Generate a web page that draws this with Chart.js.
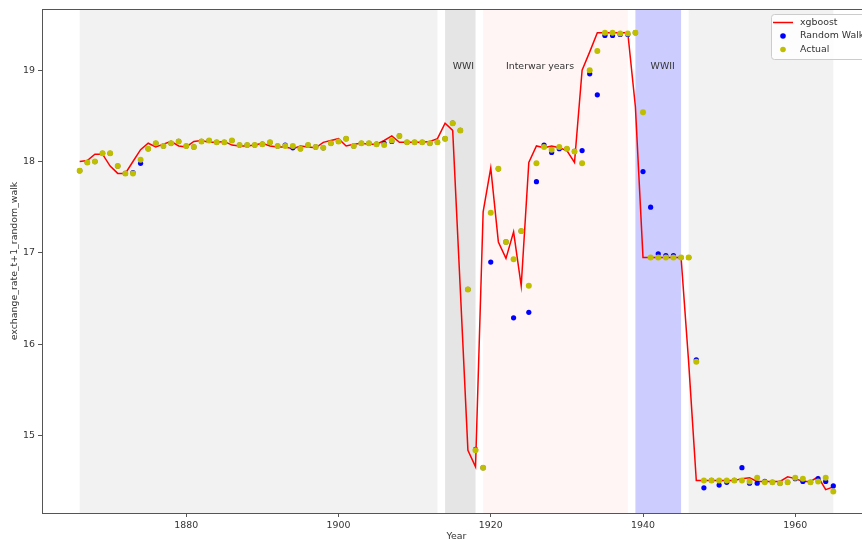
<!DOCTYPE html>
<html>
<head>
<meta charset="utf-8">
<script src="https://cdn.jsdelivr.net/npm/chart.js@4"></script>
<style>
html, body { margin: 0; padding: 0; overflow: hidden; background: #fff; }
#wrap { width: 880px; height: 548px; }
</style>
</head>
<body>
<div id="wrap"><canvas id="chart" width="880" height="548"></canvas></div>
<script>
// data, one value per year
const years = [1866,1867,1868,1869,1870,1871,1872,1873,1874,1875,
  1876,1877,1878,1879,1880,1881,1882,1883,1884,1885,
  1886,1887,1888,1889,1890,1891,1892,1893,1894,1895,
  1896,1897,1898,1899,1900,1901,1902,1903,1904,1905,
  1906,1907,1908,1909,1910,1911,1912,1913,1914,1915,
  1916,1917,1918,1919,1920,1921,1922,1923,1924,1925,
  1926,1927,1928,1929,1930,1931,1932,1933,1934,1935,
  1936,1937,1938,1939,1940,1941,1942,1943,1944,1945,
  1946,1947,1948,1949,1950,1951,1952,1953,1954,1955,
  1956,1957,1958,1959,1960,1961,1962,1963,1964,1965];

const xgboost = [18.00,18.01,18.08,18.08,17.95,17.87,17.87,18.00,18.13,18.20,
  18.16,18.19,18.22,18.17,18.16,18.22,18.23,18.21,18.21,18.22,
  18.18,18.17,18.17,18.18,18.20,18.17,18.16,18.16,18.14,18.17,
  18.16,18.15,18.21,18.23,18.25,18.17,18.19,18.20,18.19,18.19,
  18.23,18.28,18.21,18.21,18.21,18.21,18.22,18.25,18.42,18.34,
  16.60,14.84,14.66,17.45,17.93,17.12,16.94,17.23,16.64,17.99,
  18.17,18.15,18.17,18.15,18.12,17.99,19.00,19.20,19.41,19.41,
  19.41,19.41,19.41,18.60,16.95,16.95,16.95,16.95,16.95,16.95,
  15.80,14.51,14.51,14.51,14.51,14.51,14.51,14.53,14.54,14.50,
  14.50,14.50,14.50,14.55,14.53,14.50,14.50,14.55,14.41,14.44];

const randomWalk = [17.90,17.99,18.00,18.09,18.09,17.95,17.87,17.88,17.98,18.14,
  18.20,18.17,18.20,18.22,18.17,18.16,18.22,18.23,18.21,18.21,
  18.23,18.18,18.18,18.18,18.19,18.21,18.17,18.18,18.15,18.14,
  18.18,18.16,18.15,18.20,18.22,18.25,18.17,18.20,18.20,18.19,
  18.20,18.22,18.28,18.21,18.21,18.21,18.20,18.21,18.25,18.42,
  18.34,16.60,14.85,14.65,16.90,17.92,17.12,16.29,17.24,16.35,
  17.78,18.18,18.10,18.14,18.14,18.11,18.12,18.96,18.73,19.38,
  19.38,19.39,19.39,19.41,17.89,17.50,16.99,16.97,16.97,16.95,
  16.95,15.83,14.43,14.51,14.46,14.49,14.51,14.65,14.48,14.48,
  14.50,14.49,14.48,14.49,14.53,14.50,14.49,14.53,14.50,14.45];

const actual = [17.90,17.99,18.00,18.09,18.09,17.95,17.87,17.87,18.02,18.14,
  18.20,18.17,18.20,18.22,18.17,18.16,18.22,18.23,18.21,18.21,
  18.23,18.18,18.18,18.18,18.19,18.21,18.17,18.17,18.17,18.14,
  18.18,18.16,18.15,18.20,18.22,18.25,18.17,18.20,18.20,18.19,
  18.18,18.23,18.28,18.21,18.21,18.21,18.20,18.21,18.25,18.42,
  18.34,16.60,14.84,14.65,17.44,17.92,17.12,16.93,17.24,16.64,
  17.98,18.16,18.13,18.16,18.14,18.11,17.98,19.00,19.21,19.41,
  19.41,19.40,19.40,19.41,18.54,16.95,16.95,16.95,16.95,16.95,
  16.95,15.81,14.51,14.51,14.51,14.51,14.51,14.51,14.50,14.54,
  14.49,14.49,14.48,14.49,14.54,14.53,14.49,14.50,14.54,14.39];

const xTicks = [1880, 1900, 1920, 1940, 1960];
const yTicks = [15, 16, 17, 18, 19];

// shaded periods
const spanStarts = [1866, 1914, 1919, 1939, 1946];
const spanEnds = [1913, 1918, 1938, 1945, 1965];
const spanColors = ['#f2f2f2', '#e5e5e5', '#fff5f5', '#ccccff', '#f2f2f2'];
const periodLabels = ['WWI', 'Interwar years', 'WWII'];
const periodLabelYears = [1915, 1922, 1941];

const FONT = '"DejaVu Sans", sans-serif';
const TXT = '#333';

const pts = vals => vals.map((v, i) => ({ x: years[i], y: v }));

const shadePlugin = {
  id: 'shade',
  beforeDatasetsDraw(chart) {
    const { ctx, chartArea: a, scales: { x, y } } = chart;
    ctx.save();
    spanStarts.forEach((s, i) => {
      const x0 = x.getPixelForValue(s);
      const x1 = x.getPixelForValue(spanEnds[i]);
      ctx.fillStyle = spanColors[i];
      ctx.fillRect(x0, a.top, x1 - x0, a.bottom - a.top);
    });
    ctx.fillStyle = TXT;
    ctx.font = '9.4px ' + FONT;
    ctx.textAlign = 'left';
    ctx.textBaseline = 'middle';
    periodLabels.forEach((t, i) => {
      ctx.fillText(t, x.getPixelForValue(periodLabelYears[i]), y.getPixelForValue(19.04));
    });
    ctx.restore();
  },
  afterDraw(chart) {
    const { ctx, chartArea: a } = chart;
    ctx.save();
    // frame
    ctx.strokeStyle = '#555';
    ctx.lineWidth = 1;
    ctx.strokeRect(a.left + 0.5, a.top + 0.5, a.right - a.left, a.bottom - a.top);
    // legend box
    const bx = a.right - 100, by = a.top + 5;
    ctx.beginPath();
    ctx.roundRect(bx + 0.5, by + 0.5, 110, 45, 3);
    ctx.fillStyle = 'rgba(255,255,255,0.85)';
    ctx.fill();
    ctx.strokeStyle = '#cccccc';
    ctx.stroke();
    const ds = chart.data.datasets;
    ctx.font = '9.4px ' + FONT;
    ctx.textBaseline = 'middle';
    ctx.textAlign = 'left';
    const rows = [by + 8.5, by + 22, by + 35.5];
    // line entry
    ctx.strokeStyle = ds[0].borderColor;
    ctx.lineWidth = 1.5;
    ctx.beginPath();
    ctx.moveTo(bx + 2, rows[0]);
    ctx.lineTo(bx + 22, rows[0]);
    ctx.stroke();
    ctx.fillStyle = TXT;
    ctx.fillText(ds[0].label, bx + 29, rows[0]);
    [1, 2].forEach(k => {
      ctx.fillStyle = ds[k].backgroundColor;
      ctx.beginPath();
      ctx.arc(bx + 12, rows[k], 2.8, 0, Math.PI * 2);
      ctx.fill();
      ctx.fillStyle = TXT;
      ctx.fillText(ds[k].label, bx + 29, rows[k]);
    });
    ctx.restore();
  }
};

new Chart(document.getElementById('chart'), {
  type: 'scatter',
  data: {
    datasets: [
      { label: 'xgboost', data: pts(xgboost), showLine: true, borderColor: '#ff0000',
        borderWidth: 1.5, pointRadius: 0, order: 3 },
      { label: 'Random Walk', data: pts(randomWalk), backgroundColor: '#0000ff',
        pointBorderColor: '#0000ff', pointRadius: 2.6, pointBorderWidth: 0, order: 2 },
      { label: 'Actual', data: pts(actual), backgroundColor: '#bfbf00',
        pointBorderColor: '#bfbf00', pointRadius: 3, pointBorderWidth: 0, order: 1 }
    ]
  },
  options: {
    responsive: false,
    animation: false,
    layout: { padding: { left: 0, top: 9, right: 9, bottom: 0 } },
    plugins: { legend: { display: false }, tooltip: { enabled: false } },
    scales: {
      x: {
        type: 'linear', min: 1861.05, max: 1969.95,
        afterBuildTicks: s => { s.ticks = xTicks.map(v => ({ value: v })); },
        afterFit: s => { s.height = 35; },
        ticks: { color: TXT, font: { family: FONT, size: 9.4 }, padding: 3, callback: v => String(v) },
        grid: { drawOnChartArea: false, drawTicks: true, tickLength: 4, color: '#555' },
        border: { display: false },
        title: { display: true, text: 'Year', color: TXT, font: { family: FONT, size: 9.4 },
          padding: { top: 0, bottom: 5.5 } }
      },
      y: {
        min: 14.154, max: 19.669,
        afterBuildTicks: s => { s.ticks = yTicks.map(v => ({ value: v })); },
        afterFit: s => { s.width = 42; },
        ticks: { color: TXT, font: { family: FONT, size: 9.4 }, padding: 3, callback: v => String(v) },
        grid: { drawOnChartArea: false, drawTicks: true, tickLength: 4, color: '#555' },
        border: { display: false },
        title: { display: true, text: 'exchange_rate_t+1_random_walk', color: TXT,
          font: { family: FONT, size: 9.4 }, padding: { top: 9, bottom: 4 } }
      }
    }
  },
  plugins: [shadePlugin]
});
</script>
</body>
</html>
